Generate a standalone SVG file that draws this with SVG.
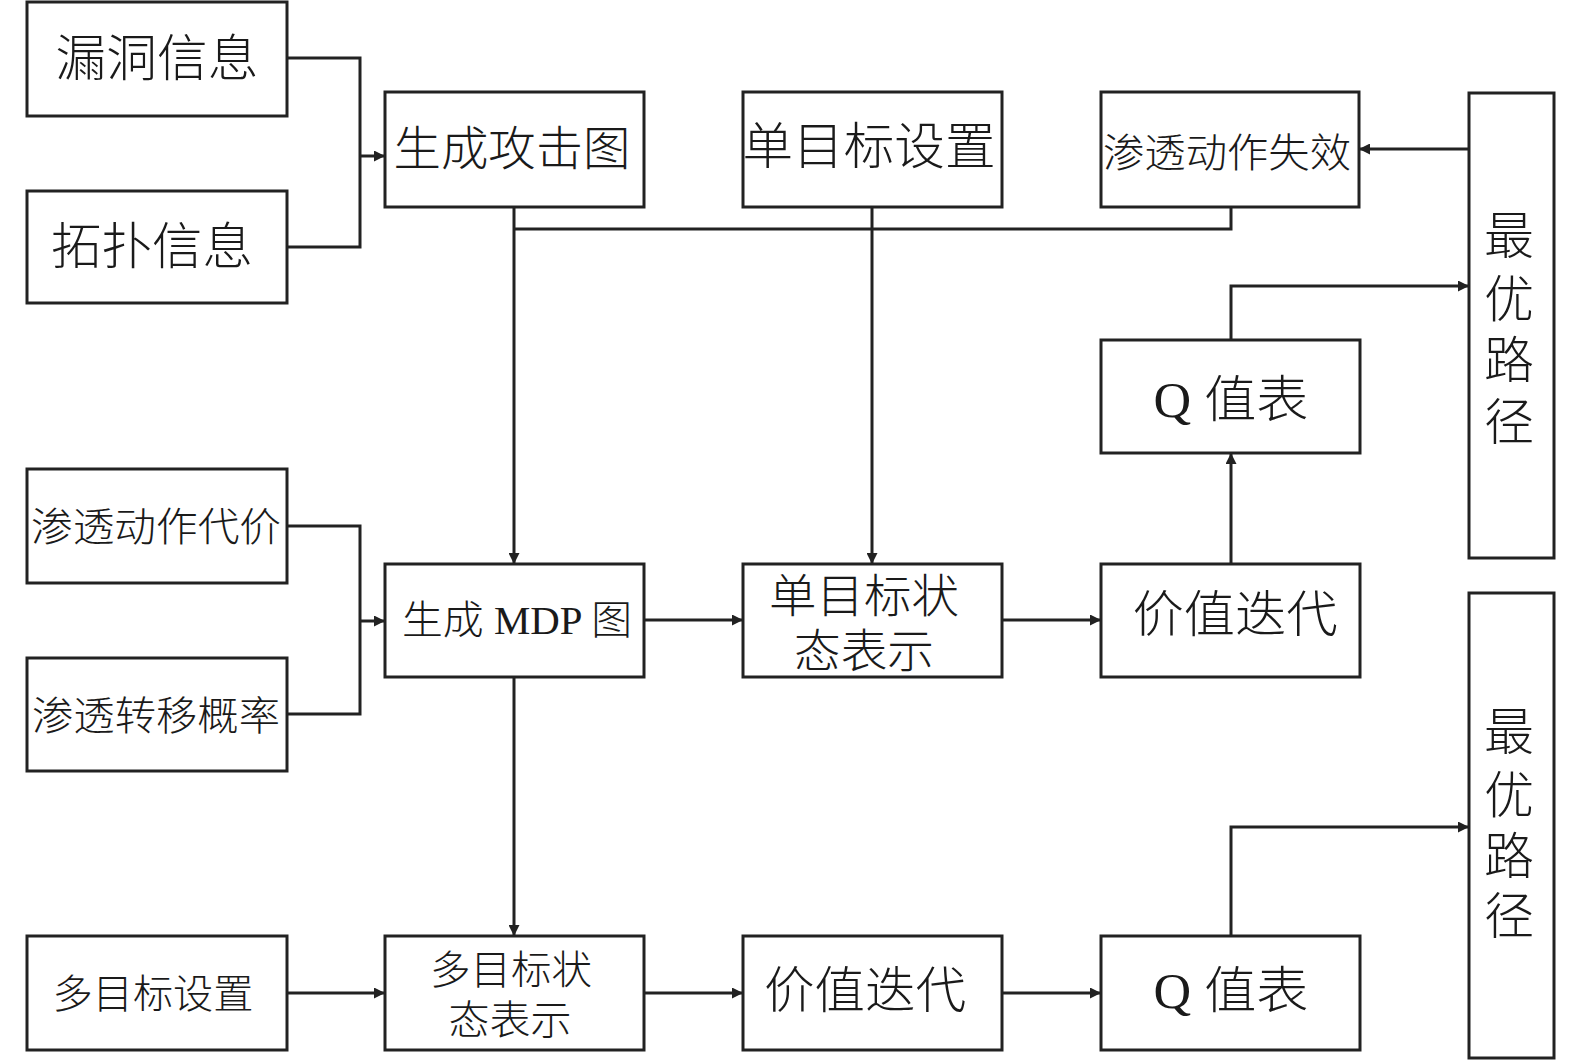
<svg xmlns="http://www.w3.org/2000/svg" width="1575" height="1061" viewBox="0 0 1575 1061">
<defs>
<marker id="arr" viewBox="0 0 10 10" refX="10" refY="5" markerWidth="12" markerHeight="11" markerUnits="userSpaceOnUse" orient="auto">
<path d="M0,0 L10,5 L0,10 Z" fill="#222"/>
</marker>
<style>
.box{fill:#fff;stroke:#222;stroke-width:3}
.t{font-family:"Liberation Serif","Noto Sans CJK SC",serif;fill:#1a1a1a;text-anchor:middle;dominant-baseline:central;font-weight:300}
.c{fill:none;stroke:#222;stroke-width:3}
</style>
</defs>
<rect width="1575" height="1061" fill="#fff"/>
<g id="connectors">
<path class="c" d="M287,58 H360 V247 H287"/>
<path class="c" d="M360,156 H385" marker-end="url(#arr)"/>
<path class="c" d="M287,526 H360 V714 H287"/>
<path class="c" d="M360,621 H385" marker-end="url(#arr)"/>
<path class="c" d="M514,207 V564" marker-end="url(#arr)"/>
<path class="c" d="M514,229 H1231 V207"/>
<path class="c" d="M872,207 V564" marker-end="url(#arr)"/>
<path class="c" d="M644,620 H743" marker-end="url(#arr)"/>
<path class="c" d="M1002,620 H1101" marker-end="url(#arr)"/>
<path class="c" d="M1231,564 V453" marker-end="url(#arr)"/>
<path class="c" d="M1231,340 V286 H1469" marker-end="url(#arr)"/>
<path class="c" d="M1469,149 H1359" marker-end="url(#arr)"/>
<path class="c" d="M514,677 V936" marker-end="url(#arr)"/>
<path class="c" d="M287,993 H385" marker-end="url(#arr)"/>
<path class="c" d="M644,993 H743" marker-end="url(#arr)"/>
<path class="c" d="M1002,993 H1101" marker-end="url(#arr)"/>
<path class="c" d="M1231,936 V827 H1469" marker-end="url(#arr)"/>
</g>
<g id="n1"><rect class="box" x="27" y="2" width="260" height="114"/><text class="t" x="157" y="59" font-size="50" textLength="203" lengthAdjust="spacingAndGlyphs">漏洞信息</text></g>
<g id="n2"><rect class="box" x="27" y="191" width="260" height="112"/><text class="t" x="152" y="247" font-size="50" textLength="202" lengthAdjust="spacingAndGlyphs">拓扑信息</text></g>
<g id="n3"><rect class="box" x="385" y="92" width="259" height="115"/><text class="t" x="512" y="149" font-size="47" textLength="237" lengthAdjust="spacingAndGlyphs">生成攻击图</text></g>
<g id="n4"><rect class="box" x="743" y="92" width="259" height="115"/><text class="t" x="869" y="147" font-size="50" textLength="253" lengthAdjust="spacingAndGlyphs">单目标设置</text></g>
<g id="n5"><rect class="box" x="1101" y="92" width="258" height="115"/><text class="t" x="1227" y="153" font-size="40" textLength="248" lengthAdjust="spacingAndGlyphs">渗透动作失效</text></g>
<g id="n6"><rect class="box" x="1469" y="93" width="85" height="465"/>
<text class="t" x="1509" y="237" font-size="50">最</text>
<text class="t" x="1509" y="300" font-size="50">优</text>
<text class="t" x="1509" y="361" font-size="50">路</text>
<text class="t" x="1509" y="423" font-size="50">径</text></g>
<g id="n7"><rect class="box" x="1101" y="340" width="259" height="113"/><text class="t" x="1231" y="400" font-size="50" textLength="155" lengthAdjust="spacingAndGlyphs">Q 值表</text></g>
<g id="n8"><rect class="box" x="27" y="469" width="260" height="114"/><text class="t" x="156" y="527" font-size="40" textLength="250" lengthAdjust="spacingAndGlyphs">渗透动作代价</text></g>
<g id="n9"><rect class="box" x="385" y="564" width="259" height="113"/><text class="t" x="517" y="620" font-size="40" textLength="230" lengthAdjust="spacingAndGlyphs">生成 MDP 图</text></g>
<g id="n10"><rect class="box" x="743" y="564" width="259" height="113"/>
<text class="t" x="864" y="596" font-size="46" textLength="190" lengthAdjust="spacingAndGlyphs">单目标状</text>
<text class="t" x="864" y="651" font-size="46" textLength="140" lengthAdjust="spacingAndGlyphs">态表示</text></g>
<g id="n11"><rect class="box" x="1101" y="564" width="259" height="113"/><text class="t" x="1235" y="615" font-size="50" textLength="205" lengthAdjust="spacingAndGlyphs">价值迭代</text></g>
<g id="n12"><rect class="box" x="27" y="658" width="260" height="113"/><text class="t" x="156" y="716" font-size="40" textLength="248" lengthAdjust="spacingAndGlyphs">渗透转移概率</text></g>
<g id="n13"><rect class="box" x="1469" y="593" width="85" height="465"/>
<text class="t" x="1509" y="733" font-size="50">最</text>
<text class="t" x="1509" y="796" font-size="50">优</text>
<text class="t" x="1509" y="857" font-size="50">路</text>
<text class="t" x="1509" y="917" font-size="50">径</text></g>
<g id="n14"><rect class="box" x="27" y="936" width="260" height="114"/><text class="t" x="153" y="994" font-size="40" textLength="201" lengthAdjust="spacingAndGlyphs">多目标设置</text></g>
<g id="n15"><rect class="box" x="385" y="936" width="259" height="114"/>
<text class="t" x="511" y="970" font-size="40" textLength="162" lengthAdjust="spacingAndGlyphs">多目标状</text>
<text class="t" x="510" y="1020" font-size="40" textLength="123" lengthAdjust="spacingAndGlyphs">态表示</text></g>
<g id="n16"><rect class="box" x="743" y="936" width="259" height="114"/><text class="t" x="865" y="991" font-size="50" textLength="202" lengthAdjust="spacingAndGlyphs">价值迭代</text></g>
<g id="n17"><rect class="box" x="1101" y="936" width="259" height="114"/><text class="t" x="1231" y="991" font-size="50" textLength="155" lengthAdjust="spacingAndGlyphs">Q 值表</text></g>
</svg>
